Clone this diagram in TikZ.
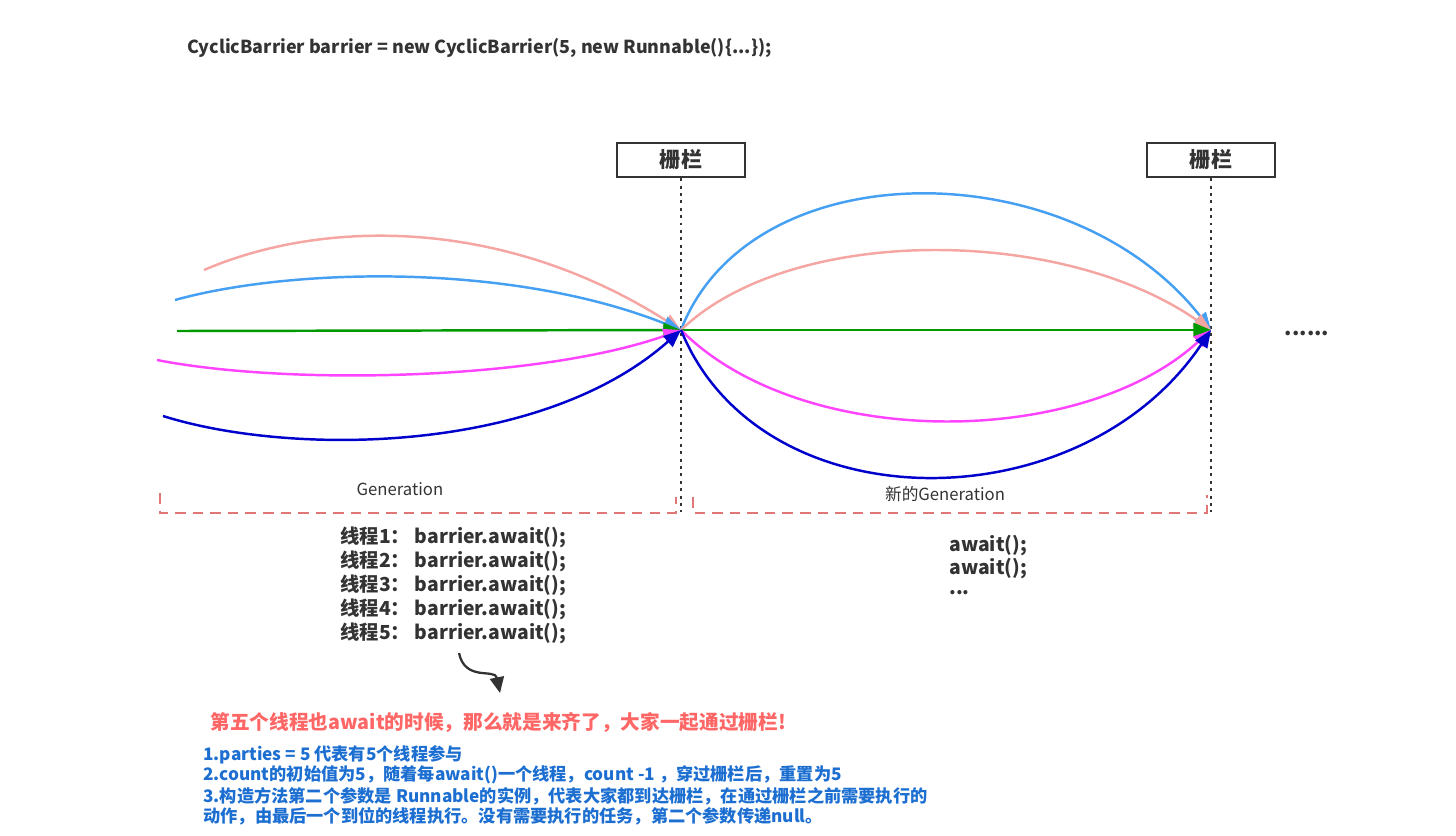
\documentclass[tikz,border=0pt]{standalone}
\usepackage{fontspec}
\setmainfont{Noto Sans CJK SC}
\usetikzlibrary{arrows.meta}
\definecolor{pinkline}{HTML}{F5A6A2}
\definecolor{skyline}{HTML}{459FF2}
\definecolor{greenline}{HTML}{009900}
\definecolor{magline}{HTML}{FF44FF}
\definecolor{navyline}{HTML}{0000CC}
\definecolor{dashred}{HTML}{E07676}
\definecolor{textgray}{HTML}{333333}
\definecolor{redtext}{HTML}{FF6666}
\definecolor{bluetext}{HTML}{1C6FD1}
\begin{document}
\begin{tikzpicture}[x=0.02cm,y=-0.02cm]
        \tikzstyle{barrier}=[draw=textgray,line width=1.4pt,fill=white,minimum width=2.56cm,minimum height=0.68cm,inner sep=0pt,font=\fontsize{12}{14}\selectfont\bfseries,text=textgray]
        \tikzstyle{fence}=[draw=textgray,line width=1.6pt,dash pattern=on 1.7pt off 2.5pt]
        \tikzstyle{thread}=[line width=1.4pt,-{Triangle[length=10pt,width=8pt]}]
        \tikzstyle{bracket}=[draw=dashred,line width=1.6pt,dash pattern=on 6pt off 4pt]
        \tikzstyle{code}=[anchor=west,inner sep=0pt,text=textgray,font=\fontsize{11}{13}\selectfont\bfseries]
        \tikzstyle{note}=[anchor=west,inner sep=0pt,text=bluetext,font=\fontsize{9.8}{12}\selectfont\bfseries]
        \useasboundingbox (0,0) rectangle (1456,835);
        % header
        \node [code,font=\fontsize{10.2}{12}\selectfont\bfseries] (title) at (187,48) {CyclicBarrier barrier = new CyclicBarrier(5, new Runnable()\{...\});};
        % barriers
        \node [barrier] (bar1) at (681,160) {栅栏};
        \node [barrier] (bar2) at (1211,160) {栅栏};
        \coordinate (m1) at (681,330);
        \coordinate (m2) at (1211,330);
        \coordinate (e1) at (681,512);
        \coordinate (e2) at (1211,512);
        \path[fence] (bar1) -- (e1);
        \path[fence] (bar2) -- (e2);
        % first generation
        \coordinate (p0) at (204,270);
        \coordinate (s0) at (175,300);
        \coordinate (g0) at (177,331);
        \coordinate (k0) at (157,360);
        \coordinate (n0) at (163,416);
        \draw[thread,pinkline] (p0) .. controls (320,220) and (500,215) .. (m1);
        \draw[thread,skyline] (s0) .. controls (290,268) and (510,262) .. (m1);
        \draw[thread,greenline] (g0) -- (m1);
        \draw[thread,magline] (k0) .. controls (290,386) and (540,380) .. (m1);
        \draw[thread,navyline] (n0) .. controls (290,456) and (540,455) .. (m1);
        % new generation
        \draw[thread,skyline] (m1) .. controls (750,150) and (1070,150) .. (m2);
        \draw[thread,pinkline] (m1) .. controls (790,225) and (1060,225) .. (m2);
        \draw[thread,greenline] (m1) -- (m2);
        \draw[thread,magline] (m1) .. controls (800,450) and (1080,450) .. (m2);
        \draw[thread,navyline] (m1) .. controls (760,525) and (1080,525) .. (m2);
        \node [font=\bfseries\large,text=textgray] (more) at (1307,333) {......};
        % brackets
        \path[bracket] (160,493) -- (160,513) -- (676,513) -- (676,497);
        \path[bracket] (693,497) -- (693,513) -- (1207,513) -- (1207,495);
        \node [text=textgray,font=\fontsize{9.5}{11}\selectfont] (gen1) at (400,489) {Generation};
        \node [text=textgray,font=\fontsize{9.5}{11}\selectfont] (gen2) at (945,494) {新的Generation};
        % threads
        \node [code] (t1) at (340,537) {线程1：\hspace{0.25em}barrier.await();};
        \node [code] (t2) at (340,561) {线程2：\hspace{0.25em}barrier.await();};
        \node [code] (t3) at (340,585) {线程3：\hspace{0.25em}barrier.await();};
        \node [code] (t4) at (340,609) {线程4：\hspace{0.25em}barrier.await();};
        \node [code] (t5) at (340,633) {线程5：\hspace{0.25em}barrier.await();};
        \node [code] (a1) at (949,546) {await();};
        \node [code] (a2) at (949,569) {await();};
        \node [code] (a3) at (949,593) {...};
        \coordinate (c0) at (459,653);
        \coordinate (c1) at (500,693);
        \draw[textgray,line width=1.3pt,-{Triangle[length=9pt,width=8pt]}] (c0) .. controls (465,682) and (495,668) .. (c1);
        % notes
        \node [note,text=redtext,font=\fontsize{11.2}{13}\selectfont\bfseries] (all) at (210,722) {第五个线程也await的时候，那么就是来齐了，大家一起通过栅栏!};
        \node [note] (n1) at (203,755) {1.parties = 5 代表有5个线程参与};
        \node [note] (n2) at (203,775) {2.count的初始值为5，随着每await()一个线程，count -1 ，穿过栅栏后，重置为5};
        \node [note] (n3) at (203,796) {3.构造方法第二个参数是 Runnable的实例，代表大家都到达栅栏，在通过栅栏之前需要执行的};
        \node [note] (n4) at (203,816) {动作，由最后一个到位的线程执行。没有需要执行的任务，第二个参数传递null。};
\end{tikzpicture}
\end{document}
